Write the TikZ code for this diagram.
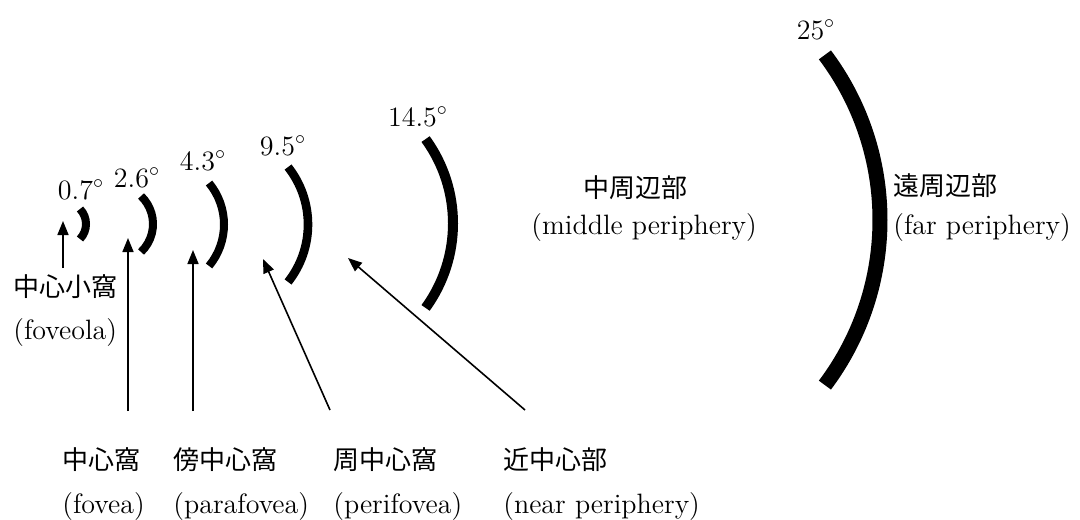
\documentclass[tikz,border=0pt]{standalone}
\usepackage{fontspec}
\newfontfamily\jpfont{Noto Sans CJK JP}
\usetikzlibrary{arrows.meta}

\begin{document}
\begin{tikzpicture}[x=0.5pt, y=-0.5pt,
    font=\fontsize{14}{16}\selectfont,
    jplbl/.style={font=\fontsize{13}{15}\selectfont\jpfont, anchor=west, inner sep=0pt},
    enlbl/.style={anchor=west, inner sep=0pt},
    deglbl/.style={inner sep=0pt},
    pointer/.style={-{Triangle[length=7pt, width=5.5pt]}, line width=0.8pt}]

    \useasboundingbox (0,0) rectangle (1080,519);

    % Arcs (right-most x / mid y / radius / half angle / width)
    \foreach \xr/\ym/\r/\a/\w in {86/224/21.75/43.6/4pt, 153/224/38.7/46.3/4pt,
      224/224.5/64.9/39.7/4pt, 308/224.5/92.7/38.3/4.3pt,
      453/223.5/143.6/36/5pt, 880/220/275/36.9/7.5pt}{
      \draw[line width=\w] (\xr,\ym) ++(-\r,0) ++(-\a:\r)
        arc[start angle=-\a, end angle=\a, radius=\r];
    }

    % Degree labels
    \node[deglbl] (deg07) at (81,190) {0.7$^\circ$};
    \node[deglbl] (deg26) at (137,178) {2.6$^\circ$};
    \node[deglbl] (deg43) at (203,161) {4.3$^\circ$};
    \node[deglbl] (deg95) at (283,146) {9.5$^\circ$};
    \node[deglbl] (deg145) at (418,117) {14.5$^\circ$};
    \node[deglbl] (deg25) at (816,30) {25$^\circ$};

    % Zone names
    \node[jplbl] (foveolajp) at (13,287) {中心小窩};
    \node[enlbl] (foveolaen) at (13,333) {(foveola)};
    \node[jplbl] (midjp) at (583,188) {中周辺部};
    \node[enlbl] (miden) at (531,228) {(middle periphery)};
    \node[jplbl] (farjp) at (893,186) {遠周辺部};
    \node[enlbl] (faren) at (893,228) {(far periphery)};

    \node[jplbl] (foveajp) at (62,460) {中心窩};
    \node[enlbl] (foveaen) at (62,507) {(fovea)};
    \node[jplbl] (parajp) at (173,460) {傍中心窩};
    \node[enlbl] (paraen) at (173,507) {(parafovea)};
    \node[jplbl] (perijp) at (333,460) {周中心窩};
    \node[enlbl] (perien) at (333,507) {(perifovea)};
    \node[jplbl] (nearjp) at (503,460) {近中心部};
    \node[enlbl] (nearen) at (503,507) {(near periphery)};

    % Pointers
    \foreach \n/\tx/\ty/\hx/\hy in {foveola/63/268/63/221, fovea/128/411/128/238,
      para/193/411/193/250, peri/330/410/263/259, near/525/410/348/258}{
      \coordinate (\n-tail) at (\tx,\ty);
      \coordinate (\n-tip) at (\hx,\hy);
      \draw[pointer] (\n-tail) -- (\n-tip);
    }

\end{tikzpicture}
\end{document}
